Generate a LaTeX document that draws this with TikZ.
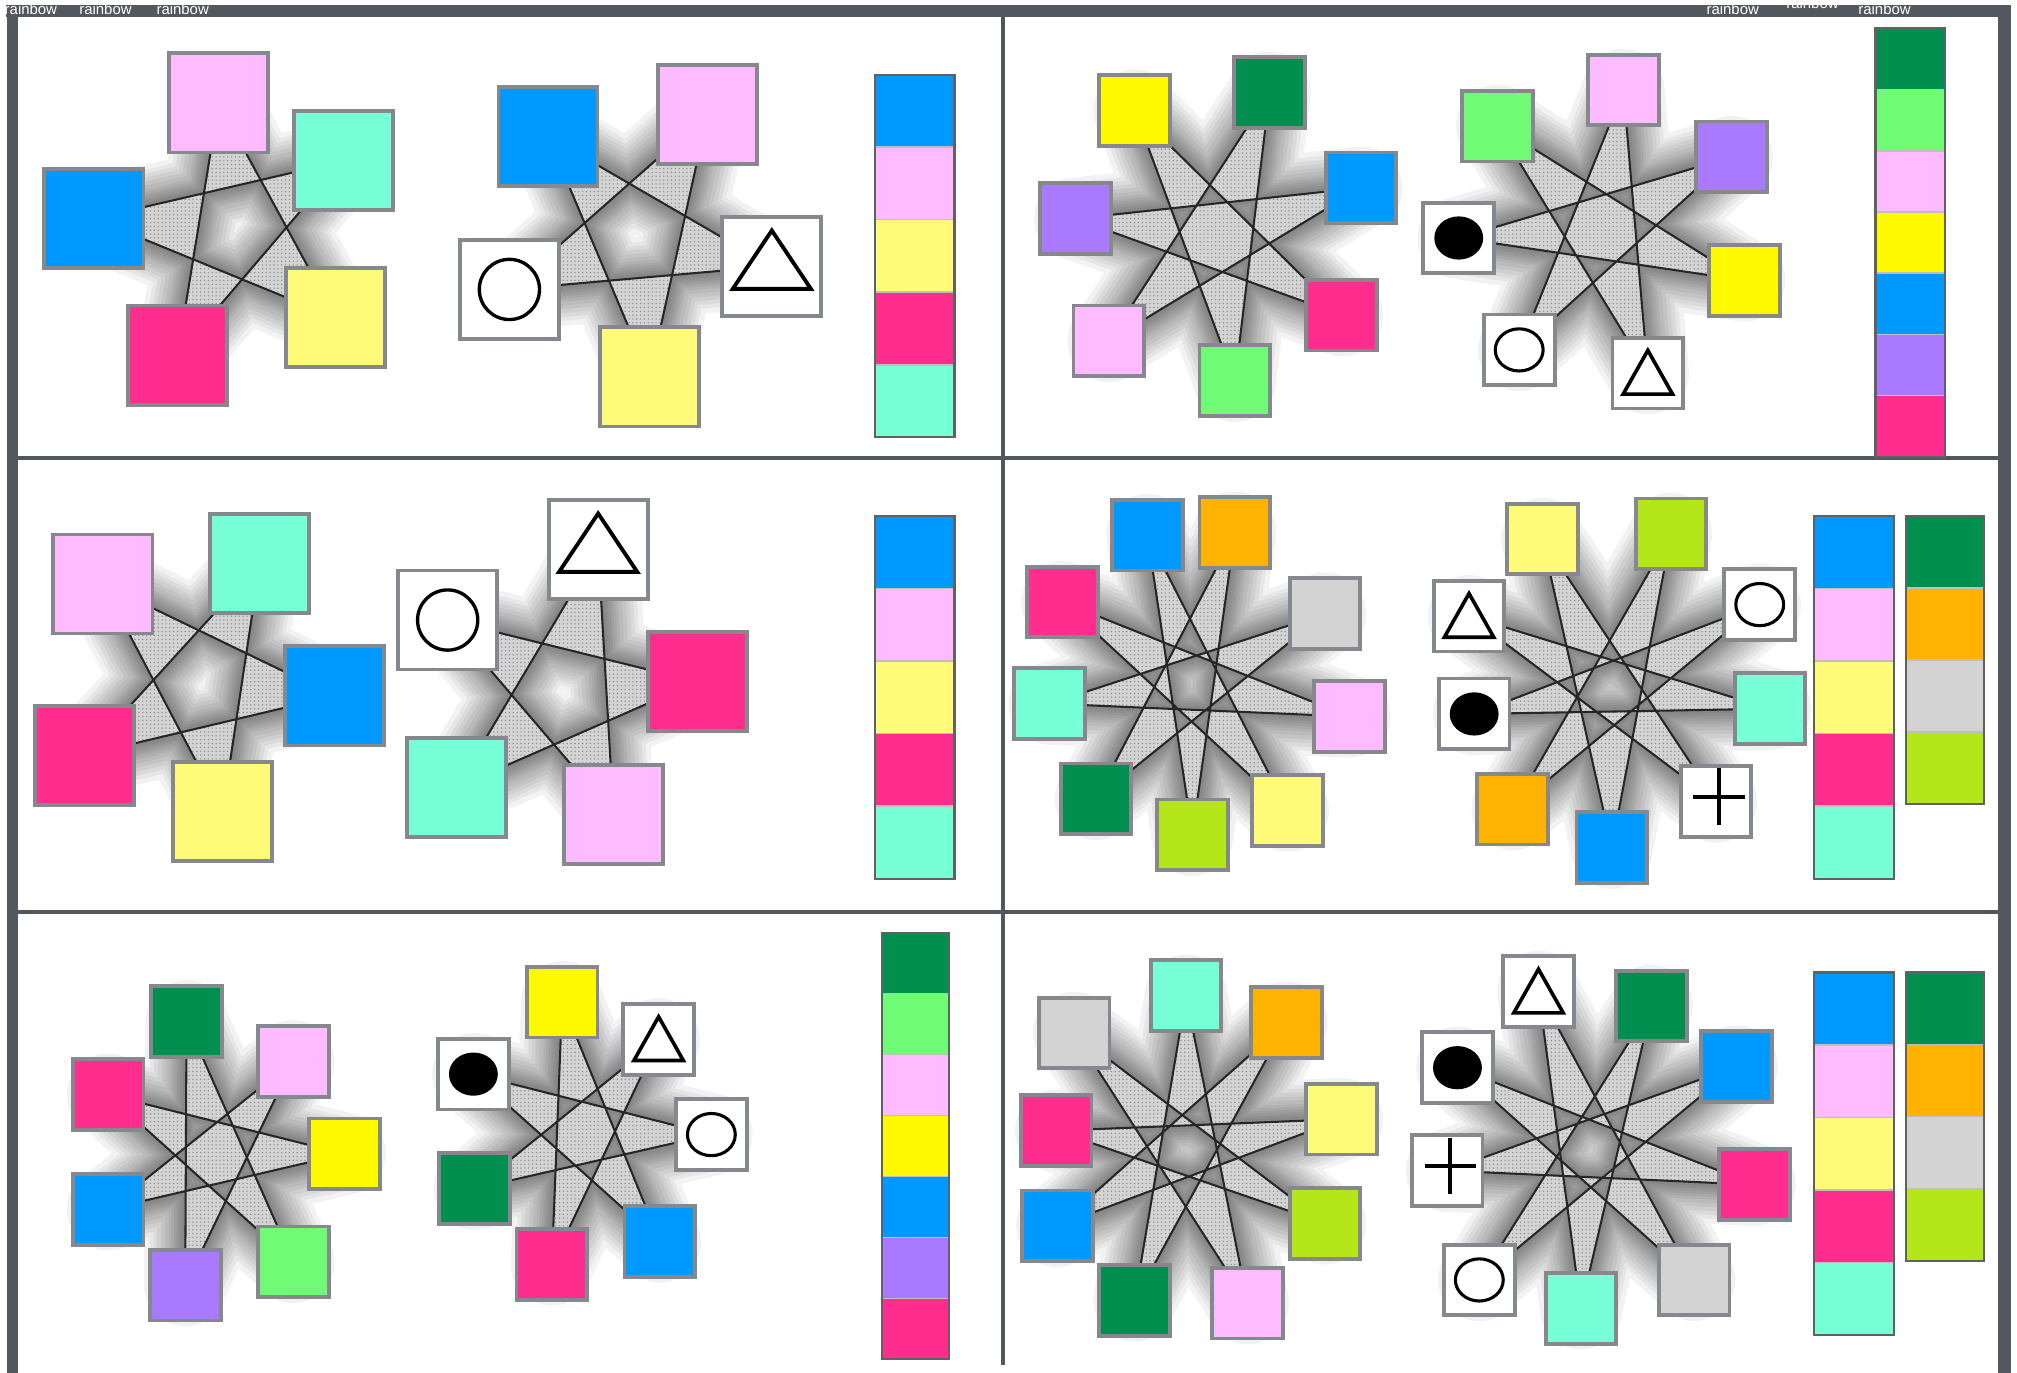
\documentclass[tikz,border=0pt]{standalone}
\usepackage{fontspec}
\setsansfont{Liberation Sans}
\usetikzlibrary{backgrounds,patterns.meta}
\definecolor{frame}{HTML}{53575E}
\definecolor{sqline}{HTML}{85888C}
\definecolor{cblue}{HTML}{0099FF}
\definecolor{cpink}{HTML}{FFBBFF}
\definecolor{cteal}{HTML}{77FFD6}
\definecolor{clemon}{HTML}{FFFB78}
\definecolor{cyellow}{HTML}{FFFA00}
\definecolor{cmag}{HTML}{FF2D8E}
\definecolor{cgreen}{HTML}{008F4F}
\definecolor{clgreen}{HTML}{70FB76}
\definecolor{cpurple}{HTML}{A97AFF}
\definecolor{corange}{HTML}{FFB300}
\definecolor{cgray}{HTML}{D3D3D3}
\definecolor{clime}{HTML}{B5E61A}
\begin{document}
\begin{tikzpicture}[x=.5pt,y=-.5pt,
  sq/.style={draw=sqline,line width=1.5pt,minimum size=38.5pt,inner sep=0pt,outer sep=0pt},
  sqs/.style={sq,minimum size=27.5pt},
  circB/.style={sq,fill=white,path picture={\draw[draw=black,line width=1.3pt] (path picture bounding box.center) circle[radius=11.7pt];}},
  triB/.style={sq,fill=white,path picture={\draw[draw=black,line width=1.5pt] (path picture bounding box.center) ++(0pt,13.9pt) -- ++(15.2pt,-22.7pt) -- ++(-30.4pt,0pt) -- cycle;}},
  circS/.style={sqs,fill=white,path picture={\draw[draw=black,line width=1.2pt] (path picture bounding box.center) ellipse[x radius=9.3pt,y radius=8.2pt];}},
  dotS/.style={sqs,fill=white,path picture={\fill[fill=black] (path picture bounding box.center) ellipse[x radius=9.5pt,y radius=8.4pt];}},
  triS/.style={sqs,fill=white,path picture={\draw[draw=black,line width=1.4pt] (path picture bounding box.center) ++(0pt,8.8pt) -- ++(9.6pt,-17pt) -- ++(-19.2pt,0pt) -- cycle;}},
  plusS/.style={sqs,fill=white,path picture={\draw[draw=black,line width=1.6pt] ([shift={(1.2pt,1.8pt)}]path picture bounding box.center) +(-10pt,0pt) -- +(10pt,0pt) +(0pt,-11pt) -- +(0pt,11pt);}},
  halo/.style={preaction={draw=black,draw opacity=.05,line width=#1,line join=round}},
  star/.style={draw=black!85,line width=.8pt,even odd rule,
    halo=32pt,halo=28pt,halo=25pt,halo=22pt,halo=19pt,halo=16pt,
    halo=13pt,halo=11pt,halo=9pt,halo=7pt,halo=5pt,halo=3pt,
    preaction={fill=black!17,even odd rule},
    preaction={pattern={Dots[distance=1.5pt,radius=.3pt]},pattern color=black!45,even odd rule}},
  lbl/.style={text=white,font=\sffamily\fontsize{5.8}{7}\selectfont,inner sep=0pt,anchor=base}]
\useasboundingbox (0,0) rectangle (1568,1067);
% frame
\fill[frame] (5,3.5) rectangle (1563,13);
\fill[frame] (5.5,3.5) rectangle (14,1067);
\fill[frame] (1553,3.5) rectangle (1563,1067);
\draw[frame,line width=1.6pt] (780,13) -- (780,1061);
\draw[frame,line width=1.5pt] (14,356) -- (1553,356);
\draw[frame,line width=1.5pt] (14,709) -- (1553,709);
\node[lbl] (t1) at (24,11.5) {rainbow};
\node[lbl] (t2) at (82,11.5) {rainbow};
\node[lbl] (t3) at (142,11.5) {rainbow};
\node[lbl] (t4) at (1347,11.5) {rainbow};
\node[lbl] (t5) at (1409,6.5) {rainbow};
\node[lbl] (t6) at (1465,11.5) {rainbow};
% colour bars
\foreach \bx/\by/\bw/\bh/\n/\cols in {
  680/58/62/56.4/5/{cblue,cpink,clemon,cmag,cteal},
  1458/22/54/47.6/7/{cgreen,clgreen,cpink,cyellow,cblue,cpurple,cmag},
  680/401/62/56.4/5/{cblue,cpink,clemon,cmag,cteal},
  1410/401/62/56.4/5/{cblue,cpink,clemon,cmag,cteal},
  1482/401/60/56/4/{cgreen,corange,cgray,clime},
  686/725/52/47.4/7/{cgreen,clgreen,cpink,cyellow,cblue,cpurple,cmag},
  1410/756/62/56.4/5/{cblue,cpink,clemon,cmag,cteal},
  1482/756/60/56/4/{cgreen,corange,cgray,clime}}{
  \foreach \c [count=\i from 0] in \cols
    \path[fill=\c,draw=black!25,line width=.6pt] (\bx,\by+\i*\bh) rectangle ++(\bw,\bh);
  \draw[black!62,line width=.8pt] (\bx,\by) rectangle ++(\bw,\n*\bh);
}
% row 1, left
\node[sq,fill=cpink] (a1) at (170,80) {};
\node[sq,fill=cteal] (a2) at (267,125) {};
\node[sq,fill=clemon] (a3) at (261,247) {};
\node[sq,fill=cmag] (a4) at (138,276) {};
\node[sq,fill=cblue] (a5) at (73,170) {};
\node[sq,fill=cpink] (b1) at (550,89) {};
\node[triB] (b2) at (600,207) {};
\node[sq,fill=clemon] (b3) at (505,293) {};
\node[circB] (b4) at (396,225) {};
\node[sq,fill=cblue] (b5) at (426,106) {};
% row 1, right
\node[sqs,fill=cyellow] (c1) at (882,86) {};
\node[sqs,fill=cgreen] (c2) at (987,72) {};
\node[sqs,fill=cblue] (c3) at (1058,146) {};
\node[sqs,fill=cmag] (c4) at (1043,245) {};
\node[sqs,fill=clgreen] (c5) at (960,296) {};
\node[sqs,fill=cpink] (c6) at (862,265) {};
\node[sqs,fill=cpurple] (c7) at (836,170) {};
\node[sqs,fill=cpink] (d1) at (1262,70) {};
\node[sqs,fill=cpurple] (d2) at (1346,122) {};
\node[sqs,fill=cyellow] (d3) at (1356,218) {};
\node[triS] (d4) at (1281,290) {};
\node[circS] (d5) at (1181,272) {};
\node[dotS] (d6) at (1134,185) {};
\node[sqs,fill=clgreen] (d7) at (1164,98) {};
% row 2, left
\node[sq,fill=cteal] (e1) at (202,438) {};
\node[sq,fill=cblue] (e2) at (260,541) {};
\node[sq,fill=clemon] (e3) at (173,631) {};
\node[sq,fill=cmag] (e4) at (66,587) {};
\node[sq,fill=cpink] (e5) at (80,454) {};
\node[triB] (f1) at (465,427) {};
\node[sq,fill=cmag] (f2) at (542,530) {};
\node[sq,fill=cpink] (f3) at (477,633) {};
\node[sq,fill=cteal] (f4) at (355,612) {};
\node[circB] (f5) at (348,482) {};
% row 2, right
\node[sqs,fill=cblue] (g1) at (892,416) {};
\node[sqs,fill=corange] (g2) at (960,414) {};
\node[sqs,fill=cgray] (g3) at (1030,477) {};
\node[sqs,fill=cpink] (g4) at (1049,557) {};
\node[sqs,fill=clemon] (g5) at (1001,630) {};
\node[sqs,fill=clime] (g6) at (927,649) {};
\node[sqs,fill=cgreen] (g7) at (852,621) {};
\node[sqs,fill=cteal] (g8) at (816,547) {};
\node[sqs,fill=cmag] (g9) at (826,468) {};
\node[sqs,fill=clemon] (h1) at (1199,419) {};
\node[sqs,fill=clime] (h2) at (1299,415) {};
\node[circS] (h3) at (1368,470) {};
\node[sqs,fill=cteal] (h4) at (1376,551) {};
\node[plusS] (h5) at (1334,623) {};
\node[sqs,fill=cblue] (h6) at (1253,659) {};
\node[sqs,fill=corange] (h7) at (1176,629) {};
\node[dotS] (h8) at (1146,555) {};
\node[triS] (h9) at (1142,479) {};
% row 3, left
\node[sqs,fill=cgreen] (i1) at (145,794) {};
\node[sqs,fill=cpink] (i2) at (228,825) {};
\node[sqs,fill=cyellow] (i3) at (268,897) {};
\node[sqs,fill=clgreen] (i4) at (228,981) {};
\node[sqs,fill=cpurple] (i5) at (144,999) {};
\node[sqs,fill=cblue] (i6) at (84,940) {};
\node[sqs,fill=cmag] (i7) at (84,851) {};
\node[sqs,fill=cyellow] (j1) at (437,779) {};
\node[triS] (j2) at (512,808) {};
\node[circS] (j3) at (553,882) {};
\node[sqs,fill=cblue] (j4) at (513,965) {};
\node[sqs,fill=cmag] (j5) at (429,983) {};
\node[sqs,fill=cgreen] (j6) at (369,924) {};
\node[dotS] (j7) at (368,835) {};
% row 3, right
\node[sqs,fill=cteal] (k1) at (922,774) {};
\node[sqs,fill=corange] (k2) at (1000,795) {};
\node[sqs,fill=clemon] (k3) at (1043,870) {};
\node[sqs,fill=clime] (k4) at (1030,951) {};
\node[sqs,fill=cpink] (k5) at (970,1013) {};
\node[sqs,fill=cgreen] (k6) at (882,1011) {};
\node[sqs,fill=cblue] (k7) at (822,953) {};
\node[sqs,fill=cmag] (k8) at (821,879) {};
\node[sqs,fill=cgray] (k9) at (835,803) {};
\node[triS] (l1) at (1196,771) {};
\node[sqs,fill=cgreen] (l2) at (1284,782) {};
\node[sqs,fill=cblue] (l3) at (1350,829) {};
\node[sqs,fill=cmag] (l4) at (1364,921) {};
\node[sqs,fill=cgray] (l5) at (1317,995) {};
\node[sqs,fill=cteal] (l6) at (1229,1017) {};
\node[circS] (l7) at (1150,995) {};
\node[plusS] (l8) at (1125,910) {};
\node[dotS] (l9) at (1133,830) {};
% star bands
\begin{scope}[on background layer]
\draw[star] (a1.center) -- (a3.center) -- (a5.center) -- (a2.center) -- (a4.center) -- cycle;
\draw[star] (b1.center) -- (b3.center) -- (b5.center) -- (b2.center) -- (b4.center) -- cycle;
\draw[star] (c1.center) -- (c4.center) -- (c7.center) -- (c3.center) -- (c6.center) -- (c2.center) -- (c5.center) -- cycle;
\draw[star] (d1.center) -- (d4.center) -- (d7.center) -- (d3.center) -- (d6.center) -- (d2.center) -- (d5.center) -- cycle;
\draw[star] (e1.center) -- (e3.center) -- (e5.center) -- (e2.center) -- (e4.center) -- cycle;
\draw[star] (f1.center) -- (f3.center) -- (f5.center) -- (f2.center) -- (f4.center) -- cycle;
\draw[star] (g1.center) -- (g5.center) -- (g9.center) -- (g4.center) -- (g8.center) -- (g3.center) -- (g7.center) -- (g2.center) -- (g6.center) -- cycle;
\draw[star] (h1.center) -- (h5.center) -- (h9.center) -- (h4.center) -- (h8.center) -- (h3.center) -- (h7.center) -- (h2.center) -- (h6.center) -- cycle;
\draw[star] (i1.center) -- (i4.center) -- (i7.center) -- (i3.center) -- (i6.center) -- (i2.center) -- (i5.center) -- cycle;
\draw[star] (j1.center) -- (j4.center) -- (j7.center) -- (j3.center) -- (j6.center) -- (j2.center) -- (j5.center) -- cycle;
\draw[star] (k1.center) -- (k5.center) -- (k9.center) -- (k4.center) -- (k8.center) -- (k3.center) -- (k7.center) -- (k2.center) -- (k6.center) -- cycle;
\draw[star] (l1.center) -- (l5.center) -- (l9.center) -- (l4.center) -- (l8.center) -- (l3.center) -- (l7.center) -- (l2.center) -- (l6.center) -- cycle;
\end{scope}
\end{tikzpicture}
\end{document}
